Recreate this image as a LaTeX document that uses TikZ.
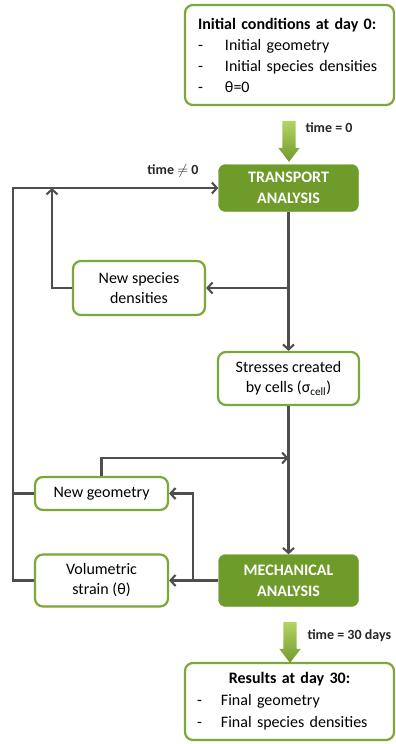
\documentclass[tikz,border=0pt]{standalone}
\usepackage{fontspec}
\setmainfont{Carlito}
\usetikzlibrary{arrows.meta,positioning,shapes.arrows}

\definecolor{leaf}{RGB}{111,155,43}
\definecolor{leafline}{RGB}{124,168,54}
\definecolor{leaflight}{RGB}{180,212,100}
\definecolor{wirecol}{RGB}{78,78,78}

\tikzset{
  box/.style={draw=leafline, line width=2.2pt, rounded corners=8pt, fill=white,
    align=center, inner sep=3pt, font=\fontsize{16}{20}\selectfont},
  solid box/.style={fill=leaf, draw=leaf, rounded corners=7pt, text=white, align=center,
    minimum width=140pt, minimum height=47pt, font=\fontsize{16}{21}\selectfont\bfseries},
  big arrow/.style={single arrow, shape border rotate=270, draw=none,
    top color=leaflight, bottom color=leaf, minimum height=41pt,
    single arrow head extend=4pt, inner sep=6.5pt, single arrow tip angle=75},
  lab/.style={font=\fontsize{14}{16}\selectfont\bfseries, text=black!85},
  wire/.style={draw=wirecol, line width=2.1pt},
}

\begin{document}
\begin{tikzpicture}[x=1pt,y=-1pt,>={Straight Barb[length=5pt,width=11pt]},line join=miter]
  \useasboundingbox (0,0) rectangle (396,744);

  % boxes
  \node[box, minimum width=209pt, minimum height=100pt, text width=183pt, align=left,
        font=\fontsize{16}{21}\selectfont] (init) at (289.5,55)
    {\textbf{Initial conditions at day 0:}\\
     \makebox[27pt][l]{-}Initial geometry\\
     \makebox[27pt][l]{-}Initial species densities\\
     \makebox[27pt][l]{-}θ=0};
  \node[solid box] (trans) at (288.5,188) {TRANSPORT\\ANALYSIS};
  \node[box, minimum width=132pt, minimum height=54pt] (dens) at (139,288)
    {New species\\densities};
  \node[box, minimum width=141pt, minimum height=53pt] (stress) at (288.5,378.5)
    {Stresses created\\by cells (σ\textsubscript{cell})};
  \node[box, minimum width=133pt, minimum height=33pt] (geom) at (101.5,493.5)
    {New geometry};
  \node[box, minimum width=133pt, minimum height=52pt] (strain) at (101.5,580.5)
    {Volumetric\\strain (θ)};
  \node[solid box, minimum height=52pt] (mech) at (288.5,580.5) {MECHANICAL\\ANALYSIS};
  \node[box, minimum width=209pt, minimum height=77pt, text width=185pt, align=left,
        font=\fontsize{16}{22}\selectfont] (res) at (289.5,701.5)
    {{\centering\textbf{Results at day 30:}\par}
     \makebox[24pt][l]{-}Final geometry\\
     \makebox[24pt][l]{-}Final species densities};

  % time arrows
  \node[big arrow] (go0) at (289,137) {};
  \node[lab, anchor=west] (t0) at (302,128) {time = 0};
  \node[big arrow] (go30) at (290,638) {};
  \node[lab, anchor=west] (t30) at (304,636) {time = 30 days};
  \node[lab] (tn) at (173,171) {time $\neq$ 0};

  % junctions
  \coordinate (fork1) at (288.5,288);
  \coordinate (fork2) at (288.5,458);
  \coordinate (fork3) at (193,580.5);
  \coordinate (loop) at (13,188);
  \coordinate (back) at (52,188);

  % connectors
  \draw[wire,->] (trans) -- (stress);
  \draw[wire,->] (fork1) -- (dens.east);
  \draw[wire,->] (dens.west) -| (back);
  \draw[wire,->] (strain.west) -| (loop) -- (trans.west);
  \draw[wire] (geom.west) -- (geom.west -| loop);
  \draw[wire,->] (stress) -- (mech);
  \draw[wire,->] (geom.north) |- (fork2);
  \draw[wire,->] (mech.west) -- (strain.east);
  \draw[wire,->] (fork3) |- (geom.east);
\end{tikzpicture}
\end{document}
